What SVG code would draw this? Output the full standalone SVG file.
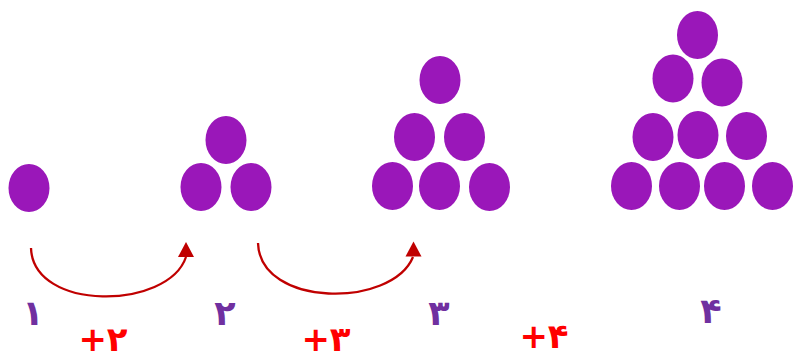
<svg xmlns="http://www.w3.org/2000/svg" xmlns:xlink="http://www.w3.org/1999/xlink" width="793" height="356" viewBox="0 0 793 356">
<style>
.dot{fill:#9a17b9}
.arc{fill:none;stroke:#c00000;stroke-width:2.3}
.ah{fill:#c00000}
.num{font-family:"DejaVu Sans",sans-serif;font-weight:bold;font-size:35px;fill:#7030a0;text-anchor:middle}
.inc{font-family:"DejaVu Sans",sans-serif;font-weight:bold;font-size:34px;fill:#ff0000;text-anchor:middle}
</style>
<defs>
<ellipse id="e" rx="20.5" ry="24" class="dot"/>
<path id="ah" d="M0,-15 L8,0 L-8,0 Z" class="ah"/>
</defs>
<g id="node1">
<use href="#e" x="29" y="188"/>
<text class="num" x="33" y="325">۱</text>
</g>
<g id="node2">
<use href="#e" x="226" y="140"/>
<use href="#e" x="201" y="187"/>
<use href="#e" x="251" y="187"/>
<text class="num" x="225" y="325">۲</text>
</g>
<g id="node3">
<use href="#e" x="440" y="80"/>
<use href="#e" x="414.5" y="137"/>
<use href="#e" x="464.5" y="137"/>
<use href="#e" x="392.5" y="186"/>
<use href="#e" x="439.5" y="186"/>
<use href="#e" x="489.5" y="187"/>
<text class="num" x="439" y="325">۳</text>
</g>
<g id="node4">
<use href="#e" x="697.5" y="35"/>
<use href="#e" x="673" y="78.5"/>
<use href="#e" x="722" y="82.5"/>
<use href="#e" x="653" y="137"/>
<use href="#e" x="698" y="135"/>
<use href="#e" x="746.5" y="136"/>
<use href="#e" x="631.5" y="186"/>
<use href="#e" x="679.5" y="186"/>
<use href="#e" x="724.5" y="186"/>
<use href="#e" x="772.5" y="186"/>
<text class="num" x="711" y="323">۴</text>
</g>
<g id="connectors">
<path class="arc" d="M31,248 C33,312 168,310 186,257"/>
<use href="#ah" x="186" y="257"/>
<path class="arc" d="M258,243 C260,308 392,308 413,257"/>
<use href="#ah" x="413.5" y="256.5"/>
</g>
<g id="labels">
<text class="inc" x="103" y="351">+۲</text>
<text class="inc" x="326" y="351">+۳</text>
<text class="inc" x="544" y="348">+۴</text>
</g>
</svg>
